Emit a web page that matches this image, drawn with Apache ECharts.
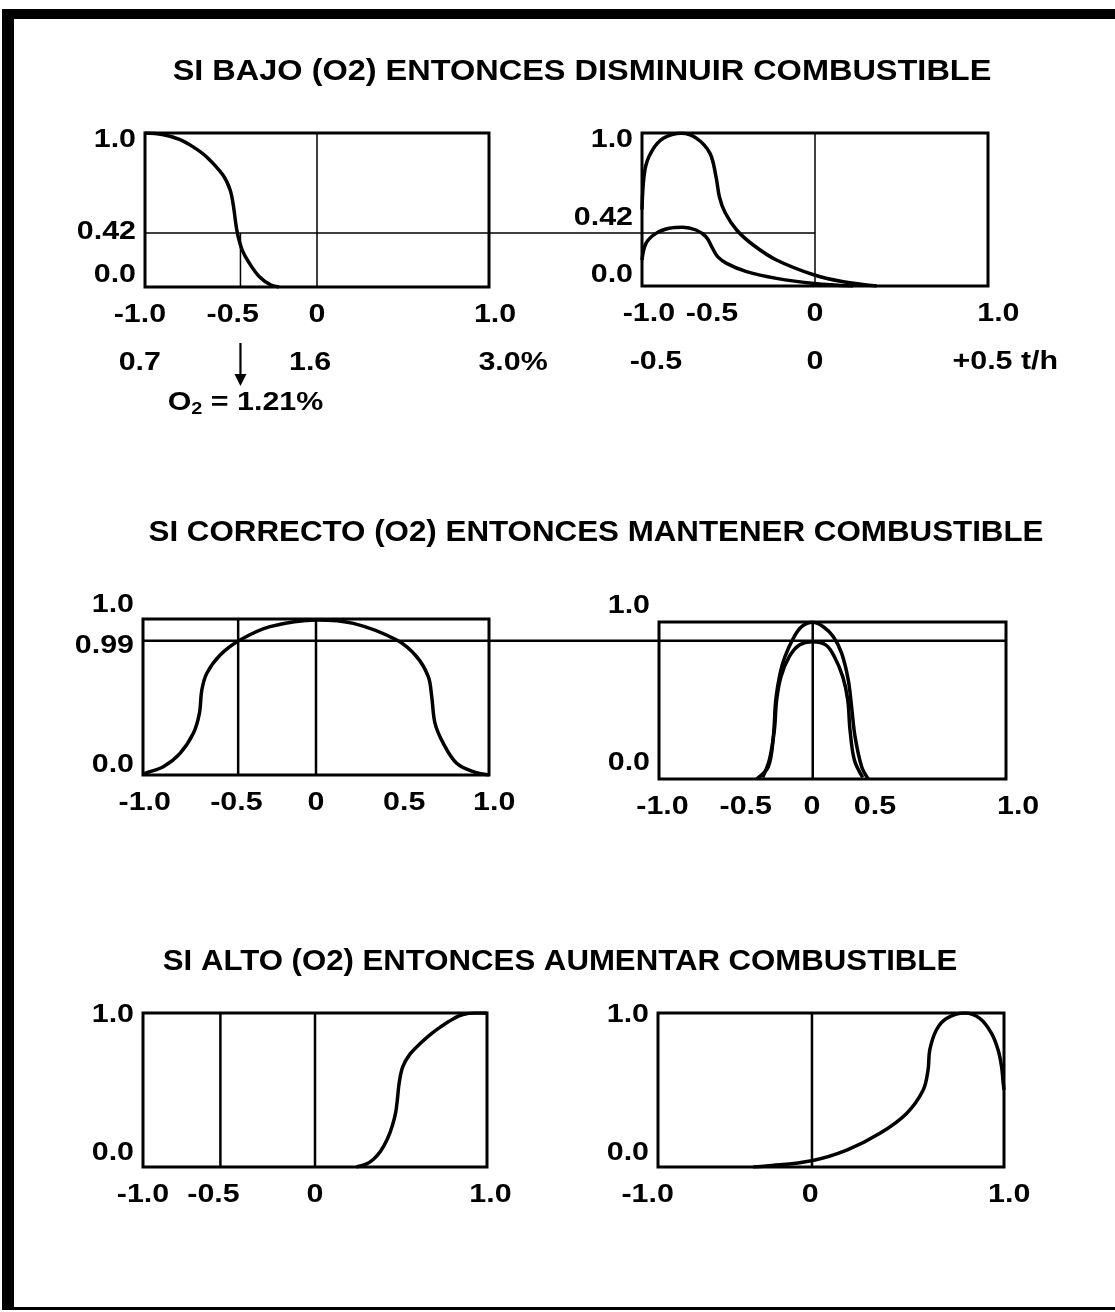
<!DOCTYPE html>
<html><head><meta charset="utf-8">
<script src="https://cdn.jsdelivr.net/npm/echarts@6/dist/echarts.min.js"></script>
<style>html,body{margin:0;padding:0;background:#fff}#c{width:1115px;height:1312px}</style>
</head><body><div id="c"></div>
<script>
// ---------------- DATA ----------------
const titleTexts = [
  'SI BAJO (O2) ENTONCES DISMINUIR COMBUSTIBLE',
  'SI CORRECTO (O2) ENTONCES MANTENER COMBUSTIBLE',
  'SI ALTO (O2) ENTONCES AUMENTAR COMBUSTIBLE'
];

// Row 1: "bajo" O2 membership and fuel output sets
const bajoO2 = [[-1,1],[-0.9,0.99],[-0.8,0.959],[-0.72,0.91],[-0.643,0.846],[-0.547,0.727],[-0.505,0.63],[-0.485,0.52],[-0.472,0.41],[-0.461,0.34],[-0.435,0.24],[-0.393,0.154],[-0.335,0.067],[-0.268,0.013],[-0.22,0]];
const bajoFuelHigh = [[-1,0.5],[-0.983,0.76],[-0.944,0.88],[-0.877,0.965],[-0.771,0.998],[-0.684,0.965],[-0.607,0.867],[-0.572,0.714],[-0.552,0.58],[-0.52,0.48],[-0.453,0.366],[-0.357,0.268],[-0.223,0.17],[-0.004,0.072],[0.164,0.028],[0.357,0]];
const bajoFuelLow = [[-1,0.17],[-0.977,0.279],[-0.919,0.344],[-0.842,0.377],[-0.765,0.384],[-0.688,0.366],[-0.63,0.322],[-0.592,0.246],[-0.563,0.192],[-0.511,0.148],[-0.396,0.094],[-0.223,0.05],[-0.004,0.017],[0.22,0]];

// Row 2: "correcto"
const correctoO2 = [[-1,0],[-0.988,0.011],[-0.883,0.053],[-0.786,0.139],[-0.709,0.267],[-0.674,0.395],[-0.66,0.545],[-0.631,0.652],[-0.554,0.769],[-0.439,0.865],[-0.266,0.951],[0.004,0.994],[0.216,0.972],[0.467,0.865],[0.582,0.758],[0.649,0.63],[0.669,0.502],[0.688,0.331],[0.736,0.203],[0.813,0.075],[0.909,0.021],[1,0]];
const correctoFuelHigh = [[-0.437,0],[-0.37,0.078],[-0.341,0.27],[-0.327,0.503],[-0.302,0.673],[-0.274,0.779],[-0.226,0.896],[-0.178,0.97],[-0.114,0.998],[-0.053,0.97],[0.005,0.906],[0.053,0.8],[0.091,0.63],[0.11,0.46],[0.13,0.27],[0.168,0.078],[0.206,0]];
const correctoFuelLow = [[-0.403,0.01],[-0.364,0.121],[-0.335,0.312],[-0.322,0.503],[-0.297,0.652],[-0.249,0.779],[-0.191,0.853],[-0.114,0.875],[-0.037,0.853],[0.011,0.779],[0.059,0.652],[0.088,0.503],[0.101,0.312],[0.126,0.121],[0.174,0.01]];

// Row 3: "alto"
const altoO2 = [[0.24,0],[0.3,0.02],[0.34,0.05],[0.38,0.1],[0.42,0.18],[0.45,0.27],[0.47,0.36],[0.48,0.45],[0.49,0.55],[0.51,0.65],[0.55,0.73],[0.61,0.8],[0.67,0.86],[0.73,0.91],[0.8,0.96],[0.86,0.99],[0.93,1],[1,1]];
const altoFuel = [[-0.45,0],[-0.372,0.006],[-0.112,0.041],[0.091,0.11],[0.283,0.219],[0.437,0.348],[0.533,0.5],[0.561,0.63],[0.571,0.76],[0.609,0.89],[0.667,0.965],[0.773,1],[0.86,0.965],[0.928,0.868],[0.966,0.76],[0.986,0.651],[0.995,0.55],[1,0.5]];

// reference vertical lines per panel (axis units)
const refLinesX = [[0],[0],[-0.45,0],[-0.114],[-0.55,0],[-0.11]];
const bajoLevel = 0.35;      // drawn height of the "0.42" cut line
const bajoDropX = -0.445;    // O2 = 1.21 %
const correctoLevel = 0.86;  // drawn height of the "0.99" cut line

// tick labels (position on axis, text)
const xTickPos = [[-1.03,-0.49,0,1.035],[-0.96,-0.595,0,1.06],[-0.99,-0.46,0,0.51,1.03],[-0.98,-0.5,-0.118,0.245,1.07],[-1,-0.59,0,1.02],[-1.06,-0.12,1.03]];
const xTickText = [['-1.0','-0.5','0','1.0'],['-1.0','-0.5','0','1.0'],['-1.0','-0.5','0','0.5','1.0'],['-1.0','-0.5','0','0.5','1.0'],['-1.0','-0.5','0','1.0'],['-1.0','0','1.0']];
const yTickPos = [[0.955,0.357,0.078],[0.954,0.444,0.072],[1.09,0.83,0.064],[1.1,0.1],[0.99,0.09],[0.99,0.09]];
const yTickText = [['1.0','0.42','0.0'],['1.0','0.42','0.0'],['1.0','0.99','0.0'],['1.0','0.0'],['1.0','0.0'],['1.0','0.0']];
const o2ScalePos = [-1.03,-0.04,1.14];
const o2ScaleText = ['0.7','1.6','3.0%'];
const fuelScalePos = [-0.92,0,1.1];
const fuelScaleText = ['-0.5','0','+0.5 t/h'];
const o2ResultText = '1.21%';

// ---------------- CHART ----------------
const FONT = '"Liberation Sans", Arial, Helvetica, sans-serif';
const chart = echarts.init(document.getElementById('c'));
const gridBoxes = [
  {left:145, top:133, width:344, height:154},
  {left:642, top:133, width:346, height:153},
  {left:143, top:619, width:346, height:156},
  {left:659, top:622, width:347, height:157},
  {left:143, top:1013, width:344, height:154},
  {left:658, top:1013, width:346, height:154}
];
const refWidth = [1.5,1.5,2.5,2.5,2.5,2.5];
const curves = [[bajoO2],[bajoFuelHigh,bajoFuelLow],[correctoO2],[correctoFuelHigh,correctoFuelLow],[altoO2],[altoFuel]];

const series = [];
curves.forEach((list, g) => {
  list.forEach(d => series.push({
    type:'line', xAxisIndex:g, yAxisIndex:g, data:d, showSymbol:false, smooth:0.35,
    lineStyle:{color:'#000', width:3.5}, silent:true, animation:false, z:5
  }));
  refLinesX[g].forEach(x => series.push({
    type:'line', xAxisIndex:g, yAxisIndex:g, data:[[x,0],[x,1]], showSymbol:false,
    lineStyle:{color:'#000', width:refWidth[g]}, silent:true, animation:false, z:3
  }));
});
// drop line from the cut level to the axis (panel 1)
series.push({type:'line', xAxisIndex:0, yAxisIndex:0, data:[[bajoDropX,bajoLevel],[bajoDropX,0]], showSymbol:false,
  lineStyle:{color:'#000', width:1.5}, silent:true, animation:false, z:3});

chart.setOption({
  animation:false,
  grid: gridBoxes.map(b => Object.assign({show:true, borderColor:'#000', borderWidth:3, backgroundColor:'transparent'}, b)),
  xAxis: gridBoxes.map((b,i) => ({type:'value', gridIndex:i, min:-1, max:1, show:false})),
  yAxis: gridBoxes.map((b,i) => ({type:'value', gridIndex:i, min:0, max:1, show:false})),
  series: series
});

// ---------------- TEXT & LINKS (positioned through the axes) ----------------
const px = (g, pt) => chart.convertToPixel({gridIndex:g}, pt);
const TICK = {fontSize:26, sx:1.17, w:'bold'};
const gfx = [];
function txt(x, y, text, align, size, sx, weight){
  gfx.push({type:'text', x:x, y:y, scaleX:sx, silent:true, z:10,
    style:{text:text, fill:'#000', fontSize:size, fontFamily:FONT, fontWeight:weight||'normal',
      align:align, verticalAlign:'middle', textAlign:align, textVerticalAlign:'middle'}});
}
// frame
gfx.push({type:'rect', shape:{x:3,y:9,width:1112,height:10}, style:{fill:'#000'}, silent:true});
gfx.push({type:'rect', shape:{x:2,y:9,width:12,height:1301}, style:{fill:'#000'}, silent:true});
gfx.push({type:'rect', shape:{x:2,y:1307,width:1113,height:3}, style:{fill:'#000'}, silent:true});

// titles
txt(582, 72, titleTexts[0], 'center', 29, 1.12, 'bold');
txt(596, 533, titleTexts[1], 'center', 29, 1.08, 'bold');
txt(560, 962, titleTexts[2], 'center', 29, 1.075, 'bold');

// ticks
for (let g=0; g<6; g++){
  xTickPos[g].forEach((v,i) => { const p = px(g,[v,0]); txt(p[0], p[1]+28, xTickText[g][i], 'center', TICK.fontSize, TICK.sx, TICK.w); });
  yTickPos[g].forEach((v,i) => { const p = px(g,[-1,v]); txt(p[0]-9, p[1], yTickText[g][i], 'right', TICK.fontSize, TICK.sx, TICK.w); });
}
// second scale rows (O2 % and t/h)
o2ScalePos.forEach((v,i) => { const p = px(0,[v,0]); txt(p[0], p[1]+76, o2ScaleText[i], 'center', TICK.fontSize, TICK.sx, TICK.w); });
fuelScalePos.forEach((v,i) => { const p = px(1,[v,0]); txt(p[0], p[1]+76, fuelScaleText[i], 'center', TICK.fontSize, TICK.sx, TICK.w); });

// arrow and O2 result
const ap = px(0,[bajoDropX,0]);
gfx.push({type:'line', shape:{x1:ap[0],y1:ap[1]+56,x2:ap[0],y2:ap[1]+90}, style:{stroke:'#000', lineWidth:2.2}, silent:true});
gfx.push({type:'polygon', shape:{points:[[ap[0]-6,ap[1]+87],[ap[0]+6,ap[1]+87],[ap[0],ap[1]+99]]}, style:{fill:'#000'}, silent:true});
gfx.push({type:'text', x:ap[0]+5, y:ap[1]+116, scaleX:TICK.sx, silent:true, z:10,
  style:{text:'{o|O}{s|2}{o| = '+o2ResultText+'}', align:'center', verticalAlign:'middle', textAlign:'center', textVerticalAlign:'middle',
    rich:{o:{fontSize:26, fontFamily:FONT, fontWeight:'bold', fill:'#000', lineHeight:30, verticalAlign:'middle'},
          s:{fontSize:17, fontFamily:FONT, fontWeight:'bold', fill:'#000', lineHeight:17, verticalAlign:'bottom'}}}});

// cut lines linking the panels
const a1 = px(0,[-1,bajoLevel]), a2 = px(1,[0,bajoLevel]);
gfx.push({type:'line', shape:{x1:a1[0],y1:a1[1],x2:a2[0],y2:a1[1]}, style:{stroke:'#000', lineWidth:1.5}, silent:true, z:4});
const c1 = px(2,[-1,correctoLevel]), c2 = px(3,[1,correctoLevel]);
gfx.push({type:'line', shape:{x1:c1[0],y1:c1[1],x2:c2[0],y2:c1[1]}, style:{stroke:'#000', lineWidth:2.5}, silent:true, z:4});

chart.setOption({graphic: gfx});
</script>
</body></html>
